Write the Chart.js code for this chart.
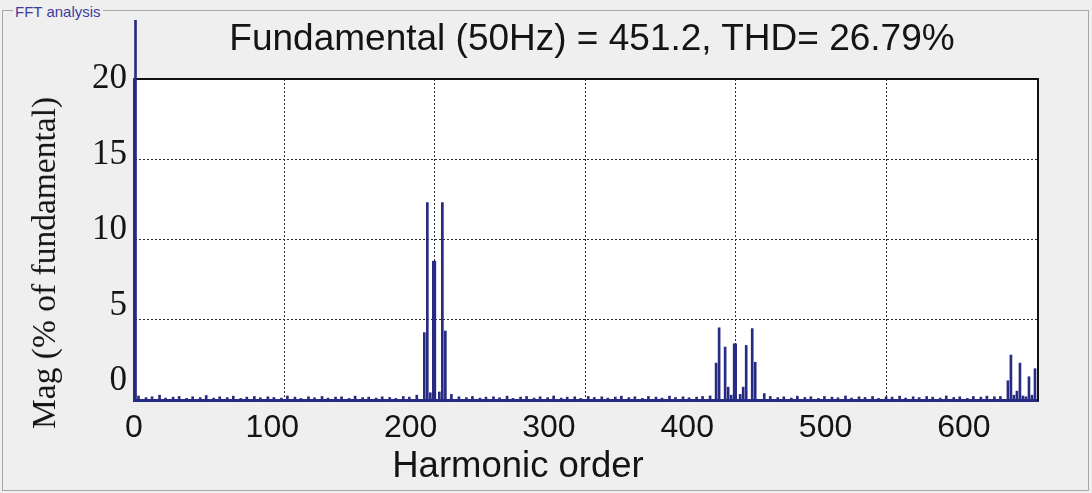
<!DOCTYPE html>
<html>
<head>
<meta charset="utf-8">
<script src="https://cdn.jsdelivr.net/npm/chart.js@4/dist/chart.umd.min.js"></script>
<style>
  html, body { margin: 0; padding: 0; width: 1092px; height: 493px; overflow: hidden; background: #efefef; }
  #box { position: absolute; left: 2px; top: 10px; width: 1087px; height: 481px; border: 1px solid #a6a6a6; box-sizing: border-box; }
  #legend { position: absolute; left: 13px; top: 3px; padding: 0 2px; background: #efefef; color: #3d3d9e;
            font: 15px 'Liberation Sans Narrow', 'Liberation Sans', Arial, sans-serif; line-height: 17px; }
  .t { position: absolute; white-space: nowrap; line-height: 1; color: #141414; transform: translate(-50%, -50%); }
  #title { left: 592px; top: 38px; font: 37px 'Liberation Sans', Arial, sans-serif; }
  #xtitle { left: 518px; top: 465px; font: 36.5px 'Liberation Sans', Arial, sans-serif; }
  #ytitle { left: 44px; top: 263px; font: 33.5px 'Liberation Serif', 'Times New Roman', serif; transform: translate(-50%, -50%) rotate(-90deg); }
  #c { position: absolute; left: 0; top: 0; }
</style>
</head>
<body>
<div id="box"></div>
<div id="legend">FFT analysis</div>
<canvas id="c" width="1092" height="493"></canvas>
<div class="t" id="title">Fundamental (50Hz) = 451.2, THD= 26.79%</div>
<div class="t" id="xtitle">Harmonic order</div>
<div class="t" id="ytitle">Mag (% of fundamental)</div>
<script>
// ---- data (harmonic order, magnitude in % of fundamental) ----
const fundamentalOrders = [1];
const fundamentalMags = [100];

const band1Orders = [193, 195, 199, 200, 205, 207];
const band1Mags   = [4.2, 12.3, 8.65, 8.65, 12.3, 4.3];

const band2Orders = [387, 389, 393, 395, 399, 400, 405, 407, 411, 413];
const band2Mags   = [2.3, 4.5, 3.3, 0.8, 3.5, 3.5, 0.8, 3.4, 4.45, 2.35];

const band3Orders = [581, 583, 587, 589, 595, 597, 599];
const band3Mags   = [1.2, 2.8, 0.55, 2.3, 1.45, 0.3, 1.95];

const noiseOrders = [
  3, 8, 12, 17, 21, 26, 30, 35, 39, 44,
  48, 53, 57, 62, 66, 71, 75, 80, 84, 89,
  93, 98, 102, 107, 111, 116, 120, 125, 129, 134,
  138, 143, 147, 152, 156, 161, 165, 170, 174, 179,
  183, 188, 197, 203, 211, 216, 221, 225, 230, 234,
  239, 243, 248, 252, 257, 261, 266, 270, 275, 279,
  284, 288, 293, 297, 302, 306, 311, 315, 320, 324,
  329, 333, 338, 342, 347, 351, 356, 360, 365, 369,
  374, 378, 383, 397, 403, 419, 423, 428, 432, 437,
  441, 446, 450, 455, 459, 464, 468, 473, 477, 482,
  486, 491, 495, 500, 504, 509, 513, 518, 522, 527,
  531, 536, 540, 545, 549, 554, 558, 563, 567, 572,
  576, 585, 591, 593
];
const noiseMags = [
  0.25, 0.15, 0.2, 0.3, 0.12, 0.18, 0.22, 0.1, 0.2, 0.15,
  0.28, 0.12, 0.2, 0.15, 0.24, 0.1, 0.18, 0.22, 0.14, 0.2,
  0.16, 0.12, 0.25, 0.18, 0.1, 0.2, 0.14, 0.22, 0.12, 0.18,
  0.2, 0.1, 0.24, 0.15, 0.18, 0.12, 0.2, 0.16, 0.1, 0.22,
  0.18, 0.3, 0.45, 0.5, 0.35, 0.2, 0.15, 0.22, 0.12, 0.18,
  0.2, 0.14, 0.24, 0.1, 0.18, 0.22, 0.12, 0.2, 0.15, 0.25,
  0.12, 0.18, 0.2, 0.1, 0.22, 0.16, 0.2, 0.12, 0.18, 0.24,
  0.15, 0.2, 0.1, 0.22, 0.18, 0.12, 0.24, 0.16, 0.2, 0.14,
  0.18, 0.22, 0.25, 0.3, 0.35, 0.4, 0.22, 0.15, 0.2, 0.12,
  0.24, 0.16, 0.2, 0.1, 0.22, 0.18, 0.14, 0.25, 0.12, 0.2,
  0.16, 0.22, 0.1, 0.2, 0.18, 0.24, 0.12, 0.2, 0.15, 0.22,
  0.18, 0.12, 0.25, 0.16, 0.2, 0.1, 0.22, 0.18, 0.24, 0.2,
  0.22, 0.3, 0.25, 0.2
];

const xTickLabels = [0, 100, 200, 300, 400, 500, 600];
const yTickLabels = [0, 5, 10, 15, 20];
const xGridValues = [100, 200, 300, 400, 500];
const yGridValues = [5, 10, 15];

// ---- build chart ----
const NAVY = '#272b82';
const zip = (xs, ys) => xs.map((x, i) => ({ x: x, y: ys[i] }));
const points = [].concat(
  zip(noiseOrders, noiseMags),
  zip(fundamentalOrders, fundamentalMags),
  zip(band1Orders, band1Mags),
  zip(band2Orders, band2Mags),
  zip(band3Orders, band3Mags)
);
const setTicks = vals => scale => { scale.ticks = vals.map(v => ({ value: v })); };

const plotBg = {
  id: 'plotBg',
  beforeDraw(chart) {
    const { ctx, chartArea: a } = chart;
    ctx.save();
    ctx.fillStyle = '#ffffff';
    ctx.fillRect(a.left, a.top, a.width, a.height);
    ctx.restore();
  }
};

new Chart(document.getElementById('c'), {
  type: 'bar',
  data: {
    datasets: [{
      data: points,
      xAxisID: 'x',
      yAxisID: 'y',
      backgroundColor: NAVY,
      borderWidth: 0,
      barThickness: 2,
      grouped: false,
      clip: { left: 2, top: 59, right: 2, bottom: 2 }
    }]
  },
  options: {
    responsive: false,
    animation: false,
    devicePixelRatio: 1,
    layout: { padding: { left: 0, right: 54, top: 79, bottom: 0 } },
    plugins: { legend: { display: false }, tooltip: { enabled: false }, title: { display: false } },
    scales: {
      x: {
        type: 'linear', position: 'bottom', min: 0, max: 601, weight: 0, offset: false,
        afterBuildTicks: setTicks(xGridValues),
        afterFit: s => { s.height = 0; },
        ticks: { display: false },
        grid: { color: '#2a2a2a', lineWidth: 1, drawTicks: false, offset: false },
        border: { display: true, color: NAVY, width: 3, dash: [2, 2] }
      },
      xl: {
        type: 'linear', position: 'bottom', min: 0, max: 653.6, weight: 1, offset: false,
        afterBuildTicks: setTicks(xTickLabels),
        afterFit: s => { s.height = 93; },
        grid: { display: false, drawTicks: false, offset: false },
        border: { display: false },
        ticks: { autoSkip: false, maxRotation: 0, padding: 9, color: '#141414',
                 font: { family: "'Liberation Sans', Arial, sans-serif", size: 32 } }
      },
      xt: {
        type: 'linear', position: 'top', min: 0, max: 601, offset: false,
        afterFit: s => { s.height = 0; },
        ticks: { display: false },
        grid: { display: false, drawTicks: false, offset: false },
        border: { display: true, color: '#111111', width: 2 }
      },
      y: {
        type: 'linear', position: 'left', min: 0, max: 20, weight: 0,
        afterBuildTicks: setTicks(yGridValues),
        afterFit: s => { s.width = 0; },
        ticks: { display: false },
        grid: { color: '#2a2a2a', lineWidth: 1, drawTicks: false },
        border: { display: true, color: NAVY, width: 2, dash: [2, 2] }
      },
      yl: {
        type: 'linear', position: 'left', min: -1.258, max: 20, weight: 1,
        afterBuildTicks: setTicks(yTickLabels),
        afterFit: s => { s.width = 134; },
        grid: { display: false, drawTicks: false },
        border: { display: false },
        ticks: { autoSkip: false, padding: 7, color: '#141414',
                 font: { family: "'Liberation Serif', 'Times New Roman', serif", size: 35 } }
      },
      yr: {
        type: 'linear', position: 'right', min: 0, max: 20,
        afterFit: s => { s.width = 0; },
        ticks: { display: false },
        grid: { display: false, drawTicks: false },
        border: { display: true, color: '#111111', width: 2 }
      }
    }
  },
  plugins: [plotBg]
});
</script>
</body>
</html>
